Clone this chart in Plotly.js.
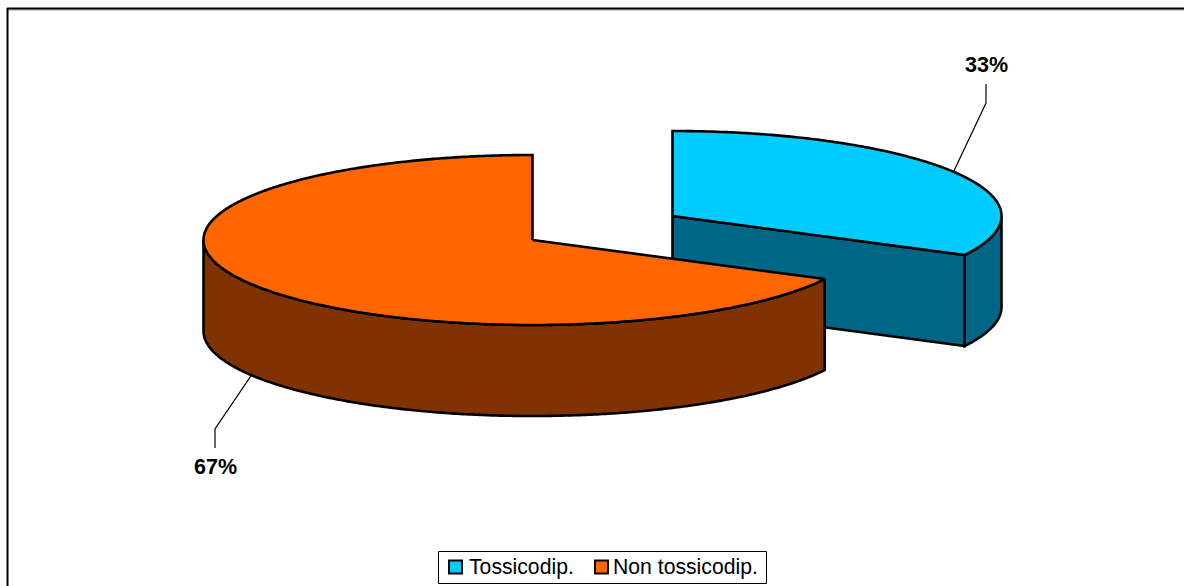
<!DOCTYPE html>
<html>
<head>
<meta charset="utf-8">
<script src="https://cdn.plot.ly/plotly-3.0.1.min.js"></script>
<style>html,body{margin:0;padding:0;background:#fff;overflow:hidden}#chart{width:1184px;height:586px}</style>
</head>
<body>
<div id="chart"></div>
<script>
// Data
const categories = ['Tossicodip.', 'Non tossicodip.'];
const values = [32.6, 67.4];
const topColors = ['#00CCFF', '#FF6600'];
const sideColors = ['#006685', '#803300'];

// Pie geometry (pixels of the plotting area)
const W = 1184, H = 586;
const centers = [[672.5, 216], [532.5, 240]];
const rx = 329, ry = 85, depth = 91;
const FONT = '"Liberation Sans", Arial, sans-serif';

const total = values.reduce((a, b) => a + b, 0);
const start = [0, values[0] / total * 360];
const end = [values[0] / total * 360, 360];

function pt(c, deg, dy) {
  const t = deg * Math.PI / 180;
  return [c[0] + rx * Math.sin(t), c[1] - ry * Math.cos(t) + (dy || 0)];
}
function arc(c, a, b, dy) {
  const pts = [], n = Math.max(8, Math.ceil(Math.abs(b - a) * 2));
  for (let i = 0; i <= n; i++) pts.push(pt(c, a + (b - a) * i / n, dy));
  return pts;
}
function poly(pts, fill) {
  const closed = pts.concat([pts[0]]);
  return {
    x: closed.map(p => p[0]), y: closed.map(p => p[1]),
    type: 'scatter', mode: 'lines', fill: 'toself', fillcolor: fill,
    line: {color: '#000', width: 2.6, simplify: false},
    showlegend: false, hoverinfo: 'skip'
  };
}
function leader(pts) {
  return {
    x: pts.map(p => p[0]), y: pts.map(p => p[1]),
    type: 'scatter', mode: 'lines',
    line: {color: '#000', width: 1.2},
    showlegend: false, hoverinfo: 'skip'
  };
}

const traces = [];

// Blue slice, exploded, behind the orange one
{
  const c = centers[0], s = start[0], e = end[0];
  const eTop = pt(c, e), eBot = pt(c, e, depth);
  traces.push(poly([c, eTop, eBot, [c[0], c[1] + depth]], sideColors[0]));
  traces.push(poly(arc(c, 90, e).concat(arc(c, e, 90, depth)), sideColors[0]));
  traces.push(poly([c].concat(arc(c, s, e)), topColors[0]));
}
// Orange slice
{
  const c = centers[1], s = start[1], e = end[1];
  traces.push(poly(arc(c, s, 270).concat(arc(c, 270, s, depth)), sideColors[1]));
  traces.push(poly([c].concat(arc(c, s, e)), topColors[1]));
}

// Leader lines start at each slice's mid angle
const mid0 = (start[0] + end[0]) / 2, mid1 = (start[1] + end[1]) / 2;
const a0 = pt(centers[0], mid0);
const a1 = pt(centers[1], mid1, depth);
traces.push(leader([a0, [986, 103], [986, 84]]));
traces.push(leader([a1, [215, 429], [215, 448]]));

// Legend swatches
const swatchX = [455.5, 601.5], textX = [466.5, 611], legendY = 567;
traces.push({
  x: swatchX, y: [legendY, legendY], type: 'scatter', mode: 'markers',
  marker: {symbol: 'square', size: 13, color: topColors, line: {color: '#000', width: 2}},
  showlegend: false, hoverinfo: 'skip'
});

const pctLabels = values.map(v => Math.round(v / total * 100) + '%');
const bold = {family: FONT, size: 21.5, color: '#000'};

const layout = {
  width: W, height: H,
  margin: {l: 0, r: 0, t: 0, b: 0},
  paper_bgcolor: '#fff', plot_bgcolor: '#fff',
  xaxis: {range: [0, W], visible: false, fixedrange: true},
  yaxis: {range: [H, 0], visible: false, fixedrange: true},
  font: {family: FONT, color: '#000'},
  showlegend: false,
  annotations: [
    {x: 986.5, y: 65, text: '<b>' + pctLabels[0] + '</b>', showarrow: false, font: bold},
    {x: 215, y: 467, text: '<b>' + pctLabels[1] + '</b>', showarrow: false, font: bold}
  ].concat(categories.map((name, i) => ({
    x: textX[i], y: legendY, text: name, showarrow: false, xanchor: 'left',
    font: {family: FONT, size: 21.2, color: '#000'}
  }))),
  shapes: [
    {type: 'line', xref: 'x', yref: 'y', x0: 8, x1: W, y0: 10, y1: 10, line: {color: '#999', width: 1}},
    {type: 'line', xref: 'x', yref: 'y', x0: 7, x1: W, y0: 8.5, y1: 8.5, line: {color: '#000', width: 2}},
    {type: 'line', xref: 'x', yref: 'y', x0: 7.5, x1: 7.5, y0: 8, y1: H, line: {color: '#000', width: 2}},
    {type: 'rect', xref: 'x', yref: 'y', x0: 438.5, x1: 766.5, y0: 551.5, y1: 583.5, fillcolor: '#fff', line: {color: '#000', width: 1}, layer: 'below'}
  ]
};

Plotly.newPlot('chart', traces, layout, {displayModeBar: false, staticPlot: true});
</script>
</body>
</html>
